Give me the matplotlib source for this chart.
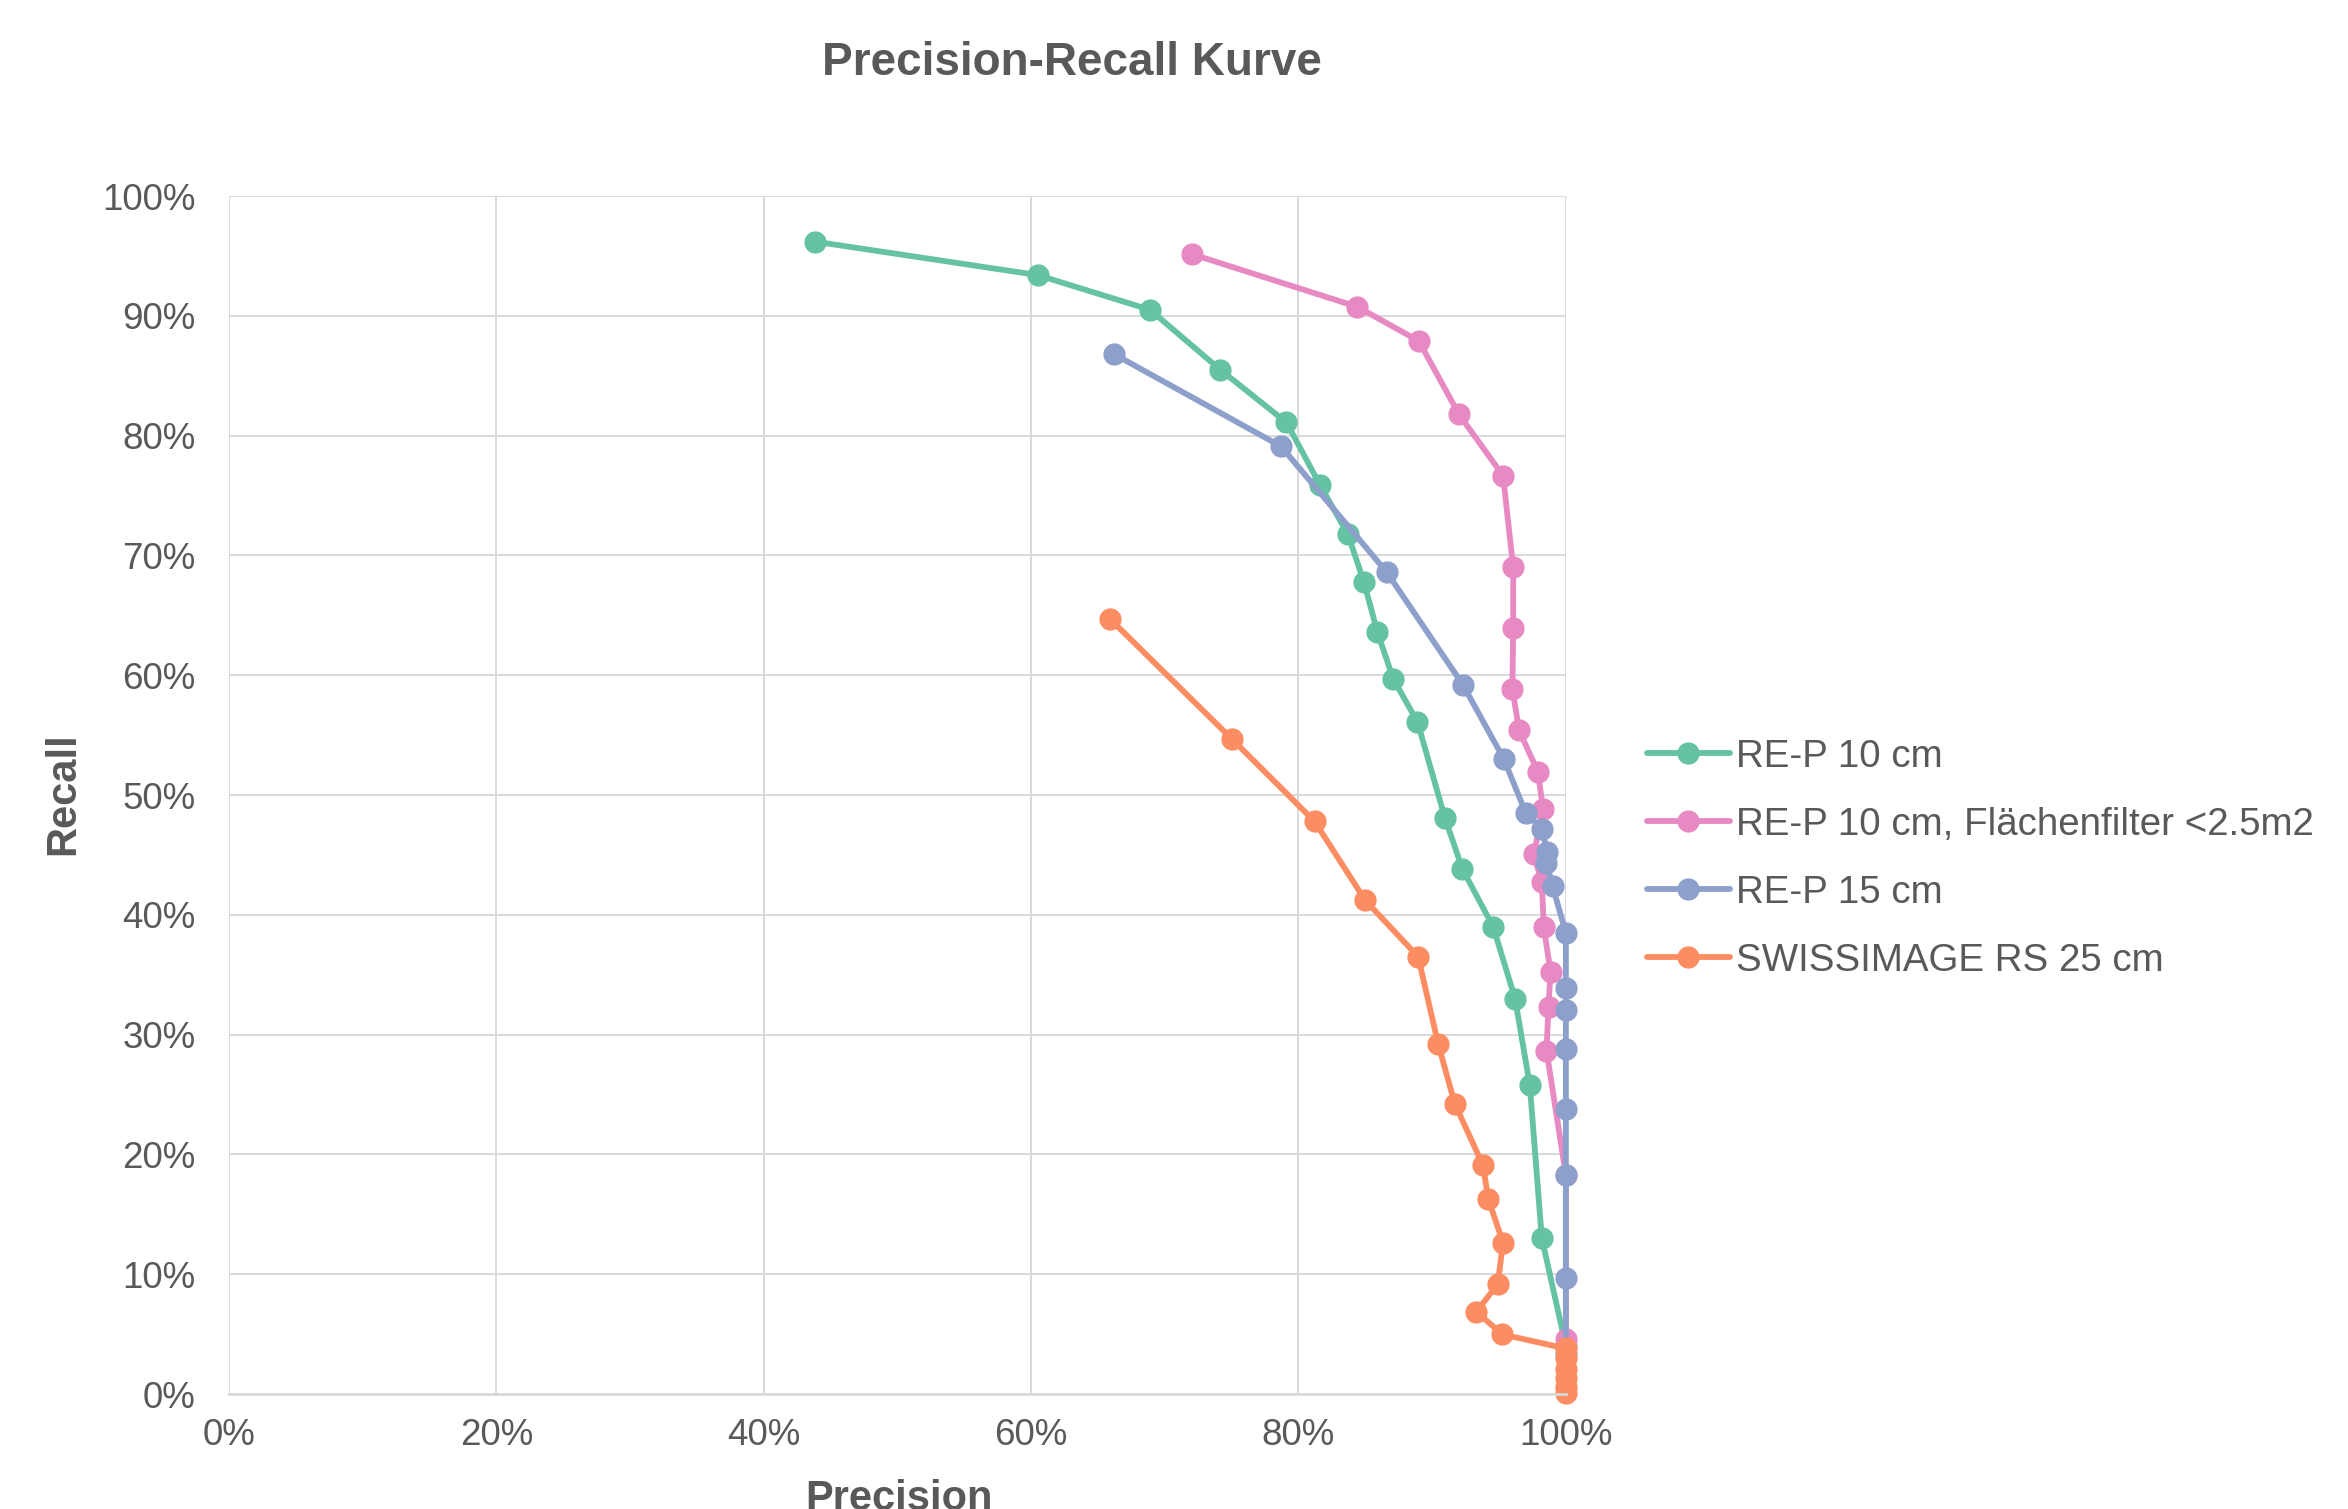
import matplotlib
matplotlib.use("Agg")
from matplotlib import pyplot as plt
from matplotlib.ticker import PercentFormatter, MultipleLocator

plt.rcParams["font.family"] = ["Liberation Sans", "DejaVu Sans"]

text_grey = "#595959"
grid_grey = "#d9d9d9"

# Precision / recall pairs
labels = [
    "RE-P 10 cm",
    "RE-P 10 cm, Flächenfilter <2.5m2",
    "RE-P 15 cm",
    "SWISSIMAGE RS 25 cm",
]
colors = ["#66c2a5", "#e78ac3", "#8da0cb", "#fc8d62"]

p_rep10 = [0.438, 0.605, 0.689, 0.7415, 0.791, 0.816, 0.837, 0.849, 0.859, 0.871,
           0.889, 0.9095, 0.9225, 0.9456, 0.962, 0.973, 0.982, 1.0]
r_rep10 = [0.962, 0.934, 0.905, 0.855, 0.811, 0.759, 0.7176, 0.6776, 0.636, 0.5966,
           0.561, 0.481, 0.4385, 0.390, 0.330, 0.258, 0.130, 0.040]

p_rep10_filter = [0.720, 0.844, 0.890, 0.920, 0.953, 0.9606, 0.9606, 0.960, 0.965,
                  0.979, 0.983, 0.976, 0.982, 0.9835, 0.9885, 0.987, 0.9855,
                  1.0, 1.0]
r_rep10_filter = [0.9516, 0.9075, 0.879, 0.8178, 0.7666, 0.690, 0.639, 0.5885, 0.554,
                  0.5195, 0.488, 0.4505, 0.427, 0.3896, 0.3525, 0.3228, 0.2866,
                  0.1828, 0.0456]

p_rep15 = [0.662, 0.787, 0.866, 0.923, 0.9536, 0.970, 0.982, 0.986, 0.9855, 0.990,
           1.0, 1.0, 1.0, 1.0, 1.0, 1.0, 1.0, 1.0]
r_rep15 = [0.868, 0.791, 0.686, 0.592, 0.530, 0.485, 0.472, 0.4527, 0.4435, 0.424,
           0.385, 0.339, 0.3205, 0.288, 0.2376, 0.1828, 0.0971, 0.033]

p_swiss = [0.659, 0.750, 0.812, 0.850, 0.8895, 0.9045, 0.917, 0.938, 0.942, 0.953,
           0.949, 0.933, 0.9524, 1.0, 1.0, 1.0, 1.0, 1.0, 1.0]
r_swiss = [0.647, 0.547, 0.478, 0.412, 0.365, 0.292, 0.242, 0.191, 0.1625, 0.1263,
           0.0916, 0.0687, 0.0498, 0.038, 0.030, 0.021, 0.013, 0.006, 0.001]

series = [
    (p_rep10, r_rep10),
    (p_rep10_filter, r_rep10_filter),
    (p_rep15, r_rep15),
    (p_swiss, r_swiss),
]

dpi = 100
fig = plt.figure(figsize=(2348 / dpi, 1509 / dpi), dpi=dpi)
ax = fig.add_axes([0.0975, 0.0762, 0.5694, 0.7939])

for (p, r), lab, col in zip(series, labels, colors):
    ax.plot(p, r, color=col, lw=4.2, marker="o", ms=15, label=lab,
            clip_on=False, solid_joinstyle="round", solid_capstyle="round")

ax.set_xlim(0, 1)
ax.set_ylim(0, 1)
ax.xaxis.set_major_locator(MultipleLocator(0.2))
ax.yaxis.set_major_locator(MultipleLocator(0.1))
ax.xaxis.set_major_formatter(PercentFormatter(1.0, decimals=0))
ax.yaxis.set_major_formatter(PercentFormatter(1.0, decimals=0))
ax.grid(True, color=grid_grey, lw=1.4)
ax.set_axisbelow(True)
for side in ["top", "right", "left"]:
    ax.spines[side].set_visible(False)
ax.spines["bottom"].set_color(grid_grey)
ax.spines["bottom"].set_linewidth(2)
ax.tick_params(axis="both", length=0, labelsize=26.5, labelcolor=text_grey)
ax.tick_params(axis="y", pad=24)
ax.tick_params(axis="x", pad=17)

fig.text(0.4566, 0.958, "Precision-Recall Kurve", ha="center", va="center",
         fontsize=33, fontweight="bold", color=text_grey)
fig.text(0.0268, 0.4738, "Recall", rotation=90, ha="center", va="center",
         fontsize=30, fontweight="bold", color=text_grey)
fig.text(0.3827, 0.02, "Precision", ha="center", va="top",
         fontsize=30, fontweight="bold", color=text_grey)

leg = fig.legend(loc="center left", bbox_to_anchor=(0.7015, 0.431), frameon=False,
                 fontsize=27.7, handlelength=2.15, handletextpad=0.15,
                 labelspacing=0.83, borderpad=0, borderaxespad=0, markerscale=1.0)
for t in leg.get_texts():
    t.set_color(text_grey)

fig.savefig("out.png", dpi=dpi)
